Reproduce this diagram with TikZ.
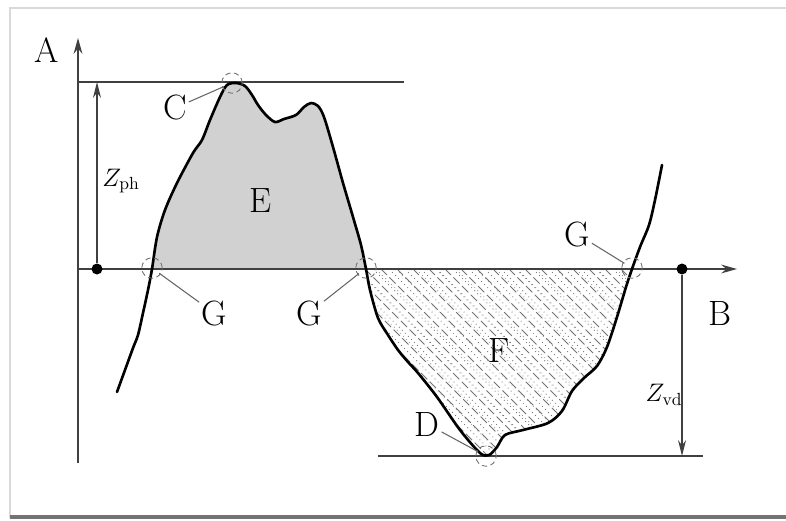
\documentclass[tikz,border=0pt]{standalone}
\usetikzlibrary{arrows.meta}
\begin{document}
\begin{tikzpicture}[x=0.02cm,y=-0.02cm,
  thinln/.style={draw=black!75,line width=0.7pt},
  axisarrow/.style={thinln,-{Stealth[length=9pt,width=5pt]}},
  dimarrow/.style={thinln,-{Stealth[length=9pt,width=4.5pt]}},
  curveln/.style={draw=black,line width=1.5pt,line join=round,line cap=round},
  lbl/.style={inner sep=1pt,font=\fontsize{20}{24}\selectfont},
  zlbl/.style={inner sep=1pt,font=\fontsize{14}{16}\selectfont},
  ring/.style={circle,draw=black!55,densely dashed,line width=0.5pt,inner sep=0pt,minimum size=0.41cm},
  leader/.style={draw=black!60,line width=0.6pt,shorten >=-1pt},
  dotnode/.style={circle,fill=black,inner sep=0pt,minimum size=0.22cm},
  hatch/.style={draw=black!55,line width=0.45pt}]
\useasboundingbox (0,0) rectangle (786,520);
\fill[white] (0,0) rectangle (786,520);
% frame
\draw[black!15,line width=1.2pt] (10,518) -- (10,8) -- (786,8);
\draw[black!55,line width=2.2pt] (10,517) -- (786,517);

% regions
\fill[black!18] plot[smooth,tension=0.5] coordinates {(152,269) (157,237) (165,210) (177,183) (193,153) (202,140) (210,120) (220,97) (227,85) (236,83) (245,86) (252,95) (258,105) (266,115) (275,122) (284,119) (296,115) (304,107) (311,103) (318,106) (324,117) (333,147) (343,183) (353,217) (361,245) (366,269)} -- cycle;
\begin{scope}
\clip plot[smooth,tension=0.5] coordinates {(366,269) (370,290) (378,318) (388,335) (398,350) (408,362) (418,373) (437,397) (460,430) (480,453) (489,455) (497,447) (505,435) (523,430) (548,423) (562,411) (572,391) (584,378) (597,366) (607,347) (617,317) (626,287) (632,269)} -- cycle;
\foreach \a in {100,116,...,660} {
  \draw[hatch,dash pattern=on 5pt off 2pt] (\a,260) -- (\a+210,470);
  \draw[hatch,dotted] (\a+8,260) -- (\a+218,470);
}
\foreach \a in {104,124,...,660} {
  \draw[hatch,black!40,dotted] (\a+3,260) -- (\a+213,470);
}
\end{scope}

% axes
\coordinate (ybot) at (78,463);
\coordinate (ytop) at (78,38);
\coordinate (xl) at (78,269);
\coordinate (xr) at (737,269);
\draw[axisarrow] (ybot) -- (ytop);
\draw[axisarrow] (xl) -- (xr);
\coordinate (tl) at (78,82);
\coordinate (tr) at (404,82);
\draw[thinln] (tl) -- (tr);
\coordinate (bl) at (378,456);
\coordinate (br) at (703,456);
\draw[thinln] (bl) -- (br);

% dots and dimension arrows
\node[dotnode] (p1) at (97,269) {};
\node[dotnode] (p2) at (682,269) {};
\coordinate (p1t) at (97,82);
\coordinate (p2b) at (682,456);
\draw[dimarrow] (p1) -- (p1t);
\draw[dimarrow] (p2) -- (p2b);

% curve
\draw[curveln] plot[smooth,tension=0.5] coordinates {(117,392) (125,370) (133,348) (138,335) (143,313) (148,290) (152,269) (157,237) (165,210) (177,183) (193,153) (202,140) (210,120) (220,97) (227,85) (236,83) (245,86) (252,95) (258,105) (266,115) (275,122) (284,119) (296,115) (304,107) (311,103) (318,106) (324,117) (333,147) (343,183) (353,217) (361,245) (366,269) (370,290) (378,318) (388,335) (398,350) (408,362) (418,373) (437,397) (460,430) (480,453) (489,455) (497,447) (505,435) (523,430) (548,423) (562,411) (572,391) (584,378) (597,366) (607,347) (617,317) (626,287) (632,269) (640,247) (649,225) (655,200) (662,165)};

% rings
\node[ring] (rC) at (232,83) {};
\node[ring] (rG1) at (152,268) {};
\node[ring] (rG2) at (366,268) {};
\node[ring] (rG3) at (632,268) {};
\node[ring] (rD) at (486,456) {};

% labels
\node[lbl] (lA) at (47,50) {A};
\node[lbl] (lB) at (720,313) {B};
\node[lbl] (lC) at (175,108) {C};
\node[lbl] (lE) at (261,201) {E};
\node[lbl] (lF) at (499,351) {F};
\node[lbl] (lD) at (427,424) {D};
\node[lbl] (lG1) at (214,313) {G};
\node[lbl] (lG2) at (309,313) {G};
\node[lbl] (lG3) at (577,234) {G};
\node[zlbl] (lZph) at (121,181) {$Z_{\mathrm{ph}}$};
\node[zlbl] (lZvd) at (664,395) {$Z_{\mathrm{vd}}$};

% leaders
\draw[leader] (lC) -- (rC);
\draw[leader] (lG1) -- (rG1);
\draw[leader] (lG2) -- (rG2);
\draw[leader] (lG3) -- (rG3);
\draw[leader] (lD) -- (rD);
\end{tikzpicture}
\end{document}
